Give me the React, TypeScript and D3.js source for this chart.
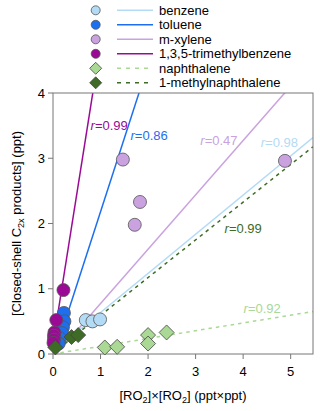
import React from 'react'
import * as d3 from 'd3'

// series order, colours and marker shapes
const names = ['benzene', 'toluene', 'm-xylene', '1,3,5-trimethylbenzene', 'naphthalene', '1-methylnaphthalene']
const colors = ['#b3dbf5', '#1d6fef', '#c9a2df', '#9a0a95', '#aad895', '#3e6b25']
const shapes = ['circle', 'circle', 'circle', 'circle', 'diamond', 'diamond']
const dashed = [false, false, false, false, true, true]

// [RO2]x[RO2] (ppt*ppt), closed-shell C2x products (ppt)
const benzene = [[0.69, 0.52], [0.83, 0.5], [0.99, 0.53]]
const toluene = [[0.23, 0.63], [0.24, 0.5], [0.21, 0.41], [0.19, 0.32], [0.15, 0.24], [0.12, 0.16]]
const mXylene = [[1.47, 2.98], [1.83, 2.33], [1.72, 1.98], [4.88, 2.96]]
const tmb = [[0.22, 0.98], [0.07, 0.52], [0.03, 0.33], [0.02, 0.28], [0.02, 0.22], [0.01, 0.17]]
const naphthalene = [[1.09, 0.1], [1.35, 0.11], [2.0, 0.29], [2.0, 0.16], [2.39, 0.33]]
const methylNaph = [[0.05, 0.1], [0.39, 0.26], [0.53, 0.29]]
const points = [benzene, toluene, mXylene, tmb, naphthalene, methylNaph]

// fit lines: intercept + slope * x
const intercepts = [0.035, -0.07, -0.06, 0.15, 0, 0.015]
const slopes = [0.6, 2.25, 0.833, 4.6, 0.119, 0.578]

// correlation labels and where they sit (data units)
const rValues = ['0.98', '0.86', '0.47', '0.99', '0.92', '0.99']
const rLabelX = [4.37, 1.63, 3.1, 0.79, 4.01, 3.61]
const rLabelY = [3.18, 3.28, 3.2, 3.43, 0.63, 1.86]

const xTicks = [0, 1, 2, 3, 4, 5]
const yTicks = [0, 1, 2, 3, 4]

const W = 320
const H = 411
const font = '"Liberation Sans", Arial, sans-serif'

export default function App() {
  const x = d3.scaleLinear().domain([0, 5.47]).range([53, 313])
  const y = d3.scaleLinear().domain([0, 4]).range([354, 93])
  const [x0, x1] = x.range()
  const [y0, y1] = y.range()

  const line = d3.line<number>()
    .x(d => x(d[0]))
    .y(d => y(d[1]))

  const diamond = (cx: number, cy: number, r: number) =>
    `M${cx},${cy - r}L${cx + r},${cy}L${cx},${cy + r}L${cx - r},${cy}Z`

  const marker = (i: number, cx: number, cy: number, small: boolean, key: string) =>
    shapes[i] === 'circle'
      ? <circle key={key} cx={cx} cy={cy} r={small ? 4.5 : 6.5} fill={colors[i]} stroke="#555" strokeWidth={0.8} />
      : <path key={key} d={diamond(cx, cy, small ? 6 : 7.5)} fill={colors[i]} stroke="#444" strokeWidth={0.8} />

  const xMax = x.domain()[1]

  return (
    <svg width={W} height={H} style={{ position: 'absolute', left: 0, top: 0 }} fontFamily={font}>
      <defs>
        <clipPath id="plot">
          <rect x={x0} y={y1} width={x1 - x0} height={y0 - y1} />
        </clipPath>
      </defs>

      {/* legend */}
      {names.map((n, i) => {
        const ly = 10.3 + i * 14.5
        return (
          <g key={n}>
            {marker(i, 95.7, ly, true, 'lm' + i)}
            <line x1={117} x2={153} y1={ly} y2={ly} stroke={colors[i]} strokeWidth={1.5}
              strokeDasharray={dashed[i] ? '4,5' : undefined} />
            <text x={159} y={ly + 4.5} fontSize={13}>{n}</text>
          </g>
        )
      })}

      {/* fit lines */}
      <g clipPath="url(#plot)">
        {slopes.map((s, i) => (
          <path key={'f' + i}
            d={line([[0, intercepts[i]], [xMax, intercepts[i] + s * xMax]]) || ''}
            fill="none" stroke={colors[i]} strokeWidth={1.5}
            strokeDasharray={dashed[i] ? '3.5,4' : undefined} />
        ))}
      </g>

      {/* r labels */}
      {rValues.map((r, i) => (
        <text key={'r' + i} x={x(rLabelX[i])} y={y(rLabelY[i])} fontSize={13} fill={colors[i]}>
          <tspan fontStyle="italic">r</tspan>=<tspan>{r}</tspan>
        </text>
      ))}

      {/* frame */}
      <rect x={x0} y={y1} width={x1 - x0} height={y0 - y1} fill="none" stroke="#777" strokeWidth={1} />

      {/* points */}
      <g>
        {points.map((ser, i) => ser.map((p, j) => marker(i, x(p[0]), y(p[1]), false, `p${i}-${j}`)))}
      </g>

      {/* x axis */}
      {xTicks.map(t => (
        <g key={'x' + t}>
          <line x1={x(t)} x2={x(t)} y1={y0} y2={y0 + 5} stroke="#777" />
          <text x={x(t)} y={y0 + 22} fontSize={13} textAnchor="middle">{t}</text>
        </g>
      ))}
      <text x={(x0 + x1) / 2} y={400} fontSize={13} textAnchor="middle">
        [RO<tspan fontSize={9} dy={3}>2</tspan><tspan dy={-3}>]×[RO</tspan><tspan fontSize={9} dy={3}>2</tspan><tspan dy={-3}>] (ppt×ppt)</tspan>
      </text>

      {/* y axis */}
      {yTicks.map(t => (
        <g key={'y' + t}>
          <line x1={x0 - 5} x2={x0} y1={y(t)} y2={y(t)} stroke="#777" />
          <text x={x0 - 8} y={y(t) + 4.5} fontSize={13} textAnchor="end">{t}</text>
        </g>
      ))}
      <text transform={`translate(21,${(y0 + y1) / 2}) rotate(-90)`} fontSize={13} textAnchor="middle">
        [Closed-shell C<tspan fontSize={9} dy={3}>2x</tspan><tspan dy={-3}> products] (ppt)</tspan>
      </text>
    </svg>
  )
}
